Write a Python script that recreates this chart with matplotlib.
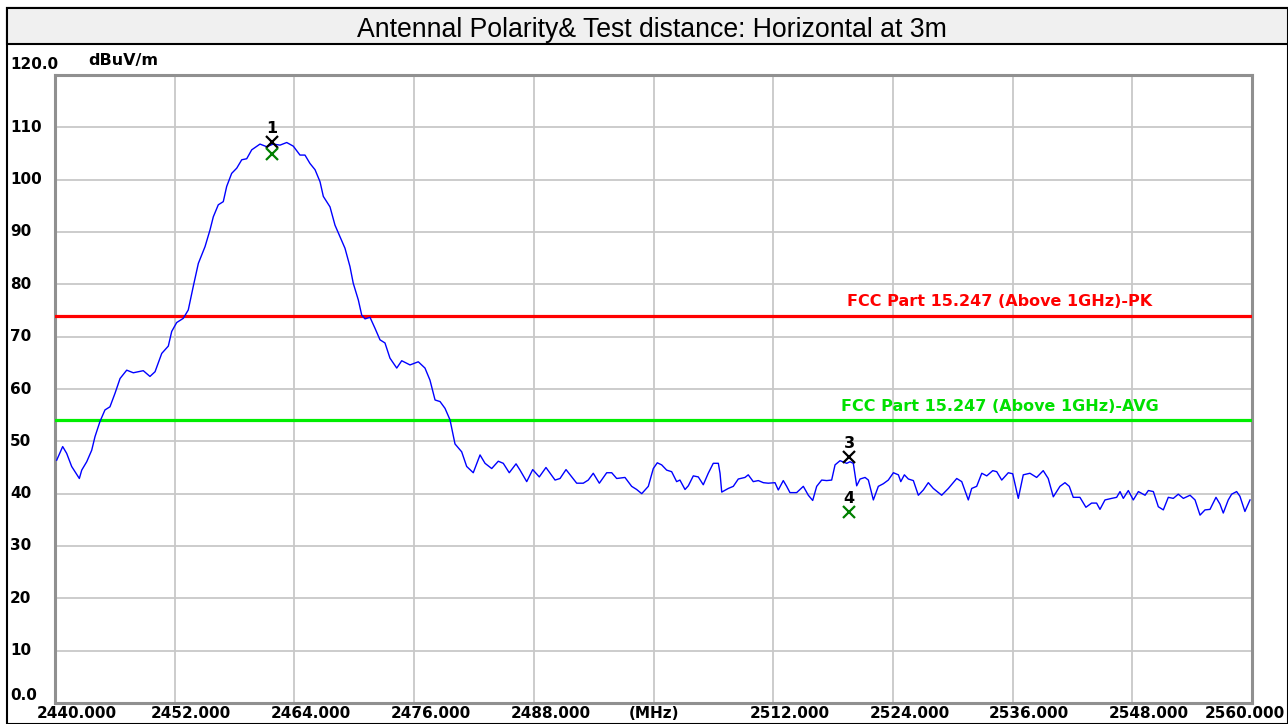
import matplotlib
matplotlib.use("Agg")
import matplotlib.pyplot as plt
from matplotlib.patches import Rectangle
from matplotlib.transforms import blended_transform_factory, offset_copy

# Trace (MHz, dBuV/m)
freq = [2440.17, 2440.77, 2441.17, 2441.67, 2442.44, 2442.68, 2443.18, 2443.68, 2444.01, 2444.51,
        2445.01, 2445.51, 2446.02, 2446.52, 2447.19, 2447.85, 2448.85, 2449.52, 2450.03, 2450.70,
        2451.36, 2451.70, 2452.20, 2452.86, 2453.36, 2453.86, 2454.37, 2455.04, 2455.54, 2455.87,
        2456.37, 2456.87, 2457.21, 2457.71, 2458.22, 2458.72, 2459.22, 2459.72, 2460.55, 2461.22,
        2461.88, 2462.56, 2463.23, 2463.89, 2464.56, 2465.06, 2465.56, 2466.07, 2466.57, 2466.90,
        2467.57, 2468.07, 2468.57, 2469.07, 2469.57, 2469.90, 2470.41, 2470.75, 2471.08, 2471.58,
        2472.08, 2472.58, 2473.08, 2473.58, 2474.26, 2474.76, 2475.59, 2476.42, 2477.09, 2477.59,
        2478.10, 2478.60, 2479.10, 2479.60, 2480.10, 2480.77, 2481.27, 2481.93, 2482.61, 2483.11,
        2483.78, 2484.44, 2484.94, 2485.54, 2486.22, 2486.62, 2487.29, 2487.89, 2488.55, 2489.22,
        2490.13, 2490.63, 2491.23, 2491.80, 2492.30, 2492.96, 2493.46, 2493.96, 2494.57, 2495.31,
        2495.81, 2496.31, 2497.14, 2497.81, 2498.31, 2498.82, 2499.48, 2499.98, 2500.38, 2500.82,
        2501.32, 2501.82, 2502.32, 2502.65, 2503.16, 2503.49, 2503.99, 2504.49, 2504.99, 2505.49,
        2505.99, 2506.50, 2506.67, 2506.84, 2507.50, 2508.00, 2508.50, 2509.17, 2509.50, 2510.00,
        2510.51, 2511.01, 2511.51, 2512.18, 2512.51, 2513.01, 2513.35, 2513.68, 2514.35, 2515.02,
        2515.52, 2515.96, 2516.36, 2516.86, 2517.36, 2517.86, 2518.20, 2518.70, 2519.37, 2519.70,
        2520.03, 2520.37, 2520.71, 2521.21, 2521.54, 2522.04, 2522.54, 2523.04, 2523.54, 2524.05,
        2524.55, 2524.79, 2525.15, 2525.55, 2526.05, 2526.55, 2527.05, 2527.55, 2528.05, 2528.89,
        2529.56, 2530.40, 2530.90, 2531.56, 2531.90, 2532.40, 2532.91, 2533.41, 2534.01, 2534.41,
        2534.91, 2535.57, 2536.01, 2536.57, 2537.07, 2537.74, 2538.41, 2539.07, 2539.57, 2540.08,
        2540.75, 2541.25, 2541.68, 2542.08, 2542.75, 2543.35, 2543.92, 2544.42, 2544.76, 2545.26,
        2545.93, 2546.43, 2546.77, 2547.10, 2547.60, 2548.10, 2548.61, 2549.28, 2549.61, 2550.11,
        2550.61, 2551.11, 2551.61, 2552.11, 2552.61, 2553.12, 2553.79, 2554.29, 2554.79, 2555.29,
        2555.79, 2556.39, 2556.79, 2557.12, 2557.62, 2557.96, 2558.46, 2558.79, 2559.29, 2559.80]
level = [46.4, 49.0, 47.7, 45.2, 42.9, 44.5, 46.1, 48.3, 50.9, 53.8,
         56.0, 56.6, 59.2, 62.0, 63.6, 63.1, 63.5, 62.4, 63.3, 66.8,
         68.2, 71.0, 72.7, 73.5, 75.1, 79.6, 84.0, 87.2, 90.4, 92.9,
         95.2, 95.8, 98.7, 101.2, 102.2, 103.8, 104.0, 105.7, 106.8, 106.3,
         106.8, 106.6, 107.1, 106.4, 104.7, 104.7, 103.1, 101.9, 99.6, 96.8,
         94.8, 91.3, 89.1, 86.9, 83.4, 80.2, 77.0, 74.1, 73.4, 73.7,
         71.6, 69.4, 68.8, 65.9, 64.0, 65.4, 64.6, 65.2, 64.0, 61.7,
         57.9, 57.6, 56.3, 54.1, 49.5, 48.0, 45.2, 44.0, 47.4, 45.8,
         44.8, 46.2, 45.8, 44.0, 45.7, 44.5, 42.3, 44.6, 43.2, 45.0,
         42.6, 42.9, 44.6, 43.2, 42.0, 42.0, 42.6, 43.9, 42.0, 44.0,
         44.0, 42.9, 43.1, 41.4, 40.8, 40.0, 41.4, 44.8, 45.9, 45.5,
         44.5, 44.2, 42.3, 42.6, 40.8, 41.5, 43.4, 43.2, 41.7, 43.9,
         45.8, 45.8, 43.9, 40.3, 41.0, 41.4, 42.8, 43.1, 43.6, 42.3,
         42.5, 42.1, 42.0, 42.1, 40.7, 42.5, 41.4, 40.2, 40.2, 41.4,
         39.7, 38.7, 41.4, 42.6, 42.5, 42.6, 45.5, 46.3, 45.8, 46.1,
         45.8, 41.5, 42.8, 43.1, 42.6, 38.8, 41.4, 41.9, 42.6, 44.0,
         43.6, 42.3, 43.6, 42.8, 42.5, 39.7, 40.7, 42.1, 41.0, 39.7,
         41.0, 42.9, 42.3, 38.8, 41.0, 41.4, 43.9, 43.4, 44.4, 44.2,
         42.6, 44.0, 43.8, 39.1, 43.6, 43.9, 43.1, 44.4, 42.9, 39.4,
         41.4, 42.1, 41.4, 39.3, 39.3, 37.4, 38.2, 38.2, 37.0, 38.8,
         39.1, 39.3, 40.4, 39.1, 40.6, 38.8, 40.4, 39.7, 40.6, 40.4,
         37.5, 36.9, 39.3, 39.1, 39.9, 39.1, 39.7, 38.8, 35.9, 36.9,
         37.0, 39.3, 38.0, 36.3, 38.8, 39.9, 40.4, 39.5, 36.6, 38.8]

limit_pk = 74.0
limit_avg = 54.0
pk_label = "FCC Part 15.247 (Above 1GHz)-PK"
avg_label = "FCC Part 15.247 (Above 1GHz)-AVG"

# markers: id, freq, level, colour
mk_ids = ["1", "2", "3", "4"]
mk_freq = [2461.75, 2461.75, 2519.60, 2519.60]
mk_level = [107.2, 105.0, 47.0, 36.5]
mk_color = ["black", "green", "black", "green"]
mk_show_id = [True, False, True, True]

xticks = [2440, 2452, 2464, 2476, 2488, 2500, 2512, 2524, 2536, 2548, 2560]
xticklabels = ["2440.000", "2452.000", "2464.000", "2476.000", "2488.000", "(MHz)",
               "2512.000", "2524.000", "2536.000", "2548.000", "2560.000"]
yticks = [0, 10, 20, 30, 40, 50, 60, 70, 80, 90, 100, 110, 120]
yticklabels = ["0.0", "10", "20", "30", "40", "50", "60", "70", "80", "90", "100", "110", "120.0"]

title = "Antennal Polarity& Test distance: Horizontal at 3m"

W, H = 1288, 724
fig = plt.figure(figsize=(W / 100, H / 100), dpi=100)
fig.patch.set_facecolor("white")

# outer frame and title band
fig.patches.append(Rectangle((7 / W, 0), 1 - 7 / W, 1 - 8 / H, transform=fig.transFigure,
                             facecolor="none", edgecolor="black", lw=1.5))
fig.patches.append(Rectangle((7 / W, 1 - 44 / H), 1 - 7 / W, 36 / H, transform=fig.transFigure,
                             facecolor="#f0f0f0", edgecolor="black", lw=1.5))
fig.text(652 / W, 1 - 30 / H, title, ha="center", va="center",
         fontsize=19.2, family="Liberation Sans")

ax = fig.add_axes([55 / W, 21 / H, (1252 - 55) / W, (703 - 75) / H])
ax.set_xlim(2440, 2560)
ax.set_ylim(0, 120)
ax.set_xticks(xticks)
ax.set_yticks(yticks)
ax.tick_params(length=0, labelbottom=False, labelleft=False)
ax.grid(True, color="#c8c8c8", lw=1.3)
for s in ax.spines.values():
    s.set_color("#909090")
    s.set_linewidth(2.2)

ax.axhline(limit_pk, color="#ff0000", lw=2.3, zorder=3)
ax.axhline(limit_avg, color="#00ee00", lw=2.3, zorder=3)
bold = dict(family="DejaVu Sans", fontweight="bold")
ax.text(2534.7, limit_pk + 1.3, pk_label, color="#ff0000", ha="center", va="bottom",
        fontsize=11.5, **bold)
ax.text(2534.7, limit_avg + 1.3, avg_label, color="#00e000", ha="center", va="bottom",
        fontsize=11.5, **bold)

ax.plot(freq, level, color="#0000ff", lw=1.0, zorder=4)

for i, f, v, c, show in zip(mk_ids, mk_freq, mk_level, mk_color, mk_show_id):
    ax.plot(f, v, marker="x", color=c, ms=8, mew=1.6, zorder=6, linestyle="none")
    if show:
        ax.annotate(i, (f, v), xytext=(0, 4), textcoords="offset points",
                    ha="center", va="bottom", fontsize=11.5, color="black", **bold)

# tick labels drawn as text to match the instrument layout
tx = blended_transform_factory(ax.transData, fig.transFigure)
for t, lab in zip(xticks, xticklabels):
    dx = 0 if lab == "(MHz)" else 12
    if t == xticks[0]:
        dx = 16
    if t == xticks[-1]:
        dx = -5
    tr = offset_copy(tx, fig=fig, x=dx, y=0, units="points")
    ax.text(t, 11 / H, lab, transform=tr, ha="center", va="center", fontsize=11,
            clip_on=False, **bold)

ty = blended_transform_factory(fig.transFigure, ax.transData)
for t, lab in zip(yticks, yticklabels):
    va = "center"
    if t == yticks[0] or t == yticks[-1]:
        va = "bottom"
    yy = t + 0.6 if t == yticks[-1] else t
    ax.text(10 / W, yy, lab, transform=ty, ha="left", va=va, fontsize=11,
            clip_on=False, **bold)
fig.text(88 / W, 1 - 60 / H, "dBuV/m", ha="left", va="center", fontsize=11.5, **bold)

fig.savefig("out.png", dpi=100)
